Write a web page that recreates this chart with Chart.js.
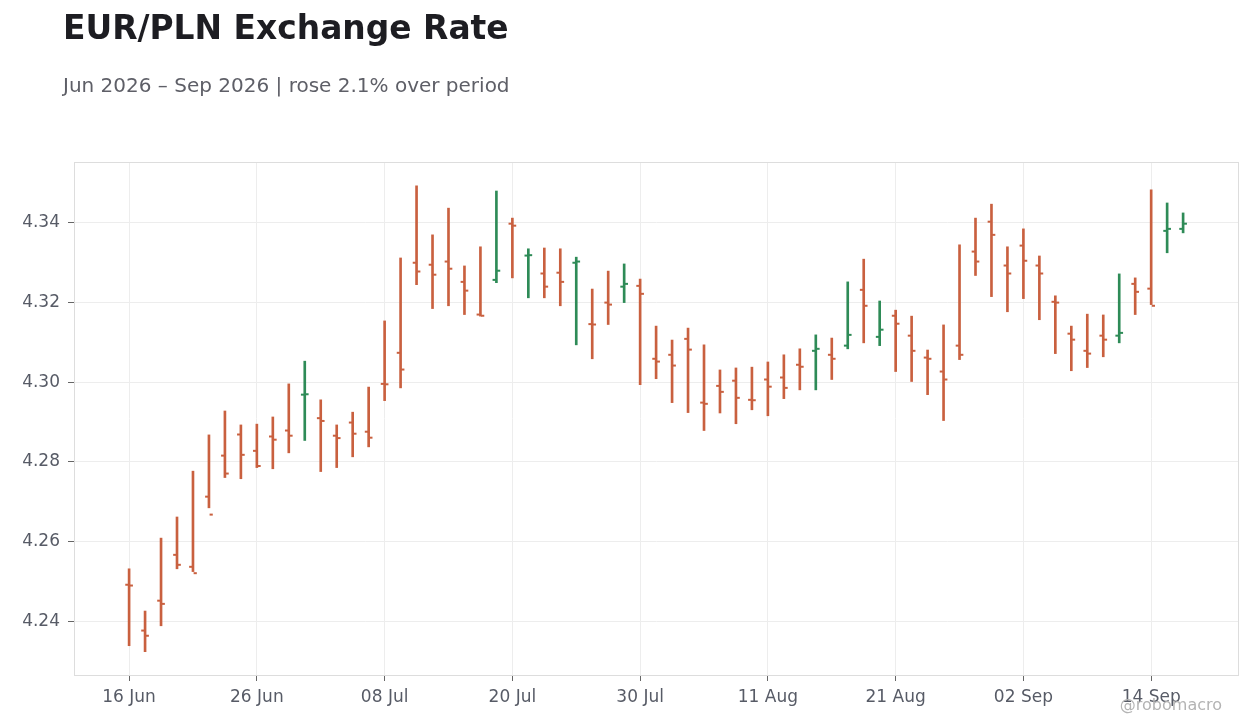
<!DOCTYPE html>
<html>
<head>
<meta charset="utf-8">
<title>EUR/PLN Exchange Rate</title>
<script src="https://cdn.jsdelivr.net/npm/chart.js@4.4.1/dist/chart.umd.min.js"></script>
<style>
  html, body { margin: 0; padding: 0; background: #ffffff; }
  #wrap { width: 1260px; height: 728px; }
</style>
</head>
<body>
<div id="wrap"><canvas id="myChart" width="1260" height="728"></canvas></div>
<script>
// business days, 16 Jun 2026 - 16 Sep 2026
var dates = [
    '16 Jun', '17 Jun', '18 Jun', '19 Jun', '22 Jun', '23 Jun', '24 Jun', '25 Jun', '26 Jun', '29 Jun', '30 Jun',
    '01 Jul', '02 Jul', '03 Jul', '06 Jul', '07 Jul', '08 Jul', '09 Jul', '10 Jul', '13 Jul', '14 Jul', '15 Jul',
    '16 Jul', '17 Jul', '20 Jul', '21 Jul', '22 Jul', '23 Jul', '24 Jul', '27 Jul', '28 Jul', '29 Jul', '30 Jul',
    '31 Jul', '03 Aug', '04 Aug', '05 Aug', '06 Aug', '07 Aug', '10 Aug', '11 Aug', '12 Aug', '13 Aug', '14 Aug',
    '17 Aug', '18 Aug', '19 Aug', '20 Aug', '21 Aug', '24 Aug', '25 Aug', '26 Aug', '27 Aug', '28 Aug', '31 Aug',
    '01 Sep', '02 Sep', '03 Sep', '04 Sep', '07 Sep', '08 Sep', '09 Sep', '10 Sep', '11 Sep', '14 Sep', '15 Sep',
    '16 Sep'
];

var openV = [
    4.2492, 4.2377, 4.2452, 4.2567, 4.2537, 4.2713, 4.2816, 4.2869, 4.2828, 4.2864, 4.2879,
    4.2969, 4.2910, 4.2866, 4.2899, 4.2876, 4.2996, 4.3074, 4.3300, 4.3295, 4.3303, 4.3252,
    4.3170, 4.3257, 4.3398, 4.3318, 4.3273, 4.3275, 4.3300, 4.3146, 4.3200, 4.3240, 4.3242,
    4.3059, 4.3069, 4.3109, 4.2949, 4.2991, 4.3004, 4.2956, 4.3007, 4.3012, 4.3044, 4.3079,
    4.3069, 4.3092, 4.3232, 4.3114, 4.3167, 4.3117, 4.3062, 4.3027, 4.3092, 4.3328, 4.3403,
    4.3293, 4.3343, 4.3293, 4.3202, 4.3122, 4.3079, 4.3117, 4.3117, 4.3247, 4.3235, 4.3380,
    4.3385
];
var highV = [
    4.2532, 4.2426, 4.2609, 4.2662, 4.2777, 4.2868, 4.2928, 4.2893, 4.2895, 4.2913, 4.2996,
    4.3053, 4.2956, 4.2893, 4.2925, 4.2988, 4.3154, 4.3312, 4.3493, 4.3370, 4.3437, 4.3292,
    4.3340, 4.3480, 4.3412, 4.3335, 4.3337, 4.3335, 4.3314, 4.3234, 4.3279, 4.3297, 4.3259,
    4.3141, 4.3106, 4.3136, 4.3094, 4.3031, 4.3036, 4.3038, 4.3051, 4.3069, 4.3084, 4.3119,
    4.3111, 4.3252, 4.3309, 4.3204, 4.3181, 4.3166, 4.3081, 4.3144, 4.3345, 4.3412, 4.3447,
    4.3340, 4.3385, 4.3317, 4.3217, 4.3141, 4.3171, 4.3169, 4.3272, 4.3262, 4.3483, 4.3450,
    4.3425
];
var lowV = [
    4.2339, 4.2324, 4.2389, 4.2532, 4.2525, 4.2685, 4.2761, 4.2758, 4.2786, 4.2783, 4.2823,
    4.2854, 4.2776, 4.2786, 4.2813, 4.2838, 4.2954, 4.2986, 4.3245, 4.3185, 4.3192, 4.3170,
    4.3166, 4.3250, 4.3262, 4.3212, 4.3212, 4.3192, 4.3094, 4.3059, 4.3145, 4.3200, 4.2994,
    4.3009, 4.2949, 4.2924, 4.2879, 4.2923, 4.2896, 4.2931, 4.2916, 4.2959, 4.2981, 4.2981,
    4.3007, 4.3084, 4.3099, 4.3092, 4.3027, 4.3002, 4.2969, 4.2904, 4.3057, 4.3268, 4.3215,
    4.3177, 4.3210, 4.3157, 4.3072, 4.3029, 4.3037, 4.3064, 4.3099, 4.3170, 4.3195, 4.3325,
    4.3375
];
var closeV = [
    4.2490, 4.2364, 4.2444, 4.2542, 4.2521, 4.2668, 4.2771, 4.2818, 4.2790, 4.2856, 4.2866,
    4.2970, 4.2903, 4.2860, 4.2871, 4.2861, 4.2995, 4.3032, 4.3278, 4.3270, 4.3285, 4.3230,
    4.3167, 4.3280, 4.3393, 4.3319, 4.3240, 4.3252, 4.3303, 4.3145, 4.3195, 4.3247, 4.3222,
    4.3052, 4.3042, 4.3082, 4.2946, 4.2976, 4.2961, 4.2955, 4.2989, 4.2986, 4.3039, 4.3084,
    4.3059, 4.3119, 4.3192, 4.3132, 4.3147, 4.3079, 4.3059, 4.3007, 4.3069, 4.3303, 4.3370,
    4.3273, 4.3305, 4.3273, 4.3200, 4.3107, 4.3072, 4.3107, 4.3124, 4.3227, 4.3192, 4.3385,
    4.3398
];

var xTicks = [0, 8, 16, 24, 32, 40, 48, 56, 64];
var yTicks = [4.24, 4.26, 4.28, 4.30, 4.32, 4.34];

var upColor = '#2e8b57';
var downColor = '#c9603f';

var colors = closeV.map(function (c, i) { return c >= openV[i] ? upColor : downColor; });
var rangeData = dates.map(function (d, i) { return { x: i, y: [lowV[i], highV[i]] }; });
var openData = dates.map(function (d, i) { return { x: i - 0.14, y: openV[i] }; });
var closeData = dates.map(function (d, i) { return { x: i + 0.14, y: closeV[i] }; });

// title, subtitle, frame and watermark
var decor = {
    id: 'decor',
    beforeDatasetsDraw: function (chart) {
        var a = chart.chartArea, ctx = chart.ctx;
        ctx.save();
        ctx.strokeStyle = '#dddddd';
        ctx.lineWidth = 1;
        ctx.strokeRect(a.left + 0.5, a.top + 0.5, a.right - a.left - 1, a.bottom - a.top);
        ctx.restore();
    },
    afterDraw: function (chart) {
        var ctx = chart.ctx;
        ctx.save();
        ctx.textBaseline = 'alphabetic';
        ctx.textAlign = 'left';
        ctx.fillStyle = '#1d1d22';
        ctx.font = 'bold 32.9px "DejaVu Sans"';
        ctx.fillText('EUR/PLN Exchange Rate', 63, 39);
        ctx.fillStyle = '#5e5f67';
        ctx.font = '20px "DejaVu Sans"';
        ctx.fillText('Jun 2026 \u2013 Sep 2026 | rose 2.1% over period', 63, 92);
        ctx.fillStyle = '#b4b4b4';
        ctx.font = '16px "DejaVu Sans"';
        ctx.textAlign = 'right';
        ctx.fillText('@robomacro', 1222, 710);
        ctx.restore();
    }
};

var ctx = document.getElementById('myChart').getContext('2d');
window.myChart = new Chart(ctx, {
    type: 'bar',
    data: {
        datasets: [
            {
                type: 'scatter',
                data: openData,
                pointStyle: 'line',
                pointRadius: 1.6,
                pointHoverRadius: 1.6,
                pointBorderWidth: 2,
                pointBorderColor: colors,
                pointBackgroundColor: colors
            },
            {
                type: 'scatter',
                data: closeData,
                pointStyle: 'line',
                pointRadius: 1.6,
                pointHoverRadius: 1.6,
                pointBorderWidth: 2,
                pointBorderColor: colors,
                pointBackgroundColor: colors
            },
            {
                type: 'bar',
                data: rangeData,
                backgroundColor: colors,
                borderWidth: 0,
                barThickness: 2,
                grouped: false
            }
        ]
    },
    options: {
        responsive: false,
        animation: false,
        events: [],
        layout: { padding: { top: 162, right: 21, left: 0, bottom: 0 } },
        plugins: {
            legend: { display: false },
            tooltip: { enabled: false }
        },
        scales: {
            x: {
                type: 'linear',
                min: -3.45,
                max: 69.5,
                offset: false,
                afterBuildTicks: function (scale) {
                    scale.ticks = xTicks.map(function (v) { return { value: v }; });
                },
                afterFit: function (scale) { scale.height = 53; },
                grid: { offset: false, color: '#ededed', tickColor: '#666666', tickLength: 6, lineWidth: 1 },
                border: { display: false },
                ticks: {
                    color: '#575b66',
                    font: { family: 'DejaVu Sans', size: 17 },
                    padding: 6,
                    maxRotation: 0,
                    autoSkip: false,
                    callback: function (v) { return dates[v]; }
                }
            },
            y: {
                min: 4.22655,
                max: 4.35528,
                afterBuildTicks: function (scale) {
                    scale.ticks = yTicks.map(function (v) { return { value: v }; });
                },
                afterFit: function (scale) { scale.width = 74; },
                grid: { color: '#ededed', tickColor: '#666666', tickLength: 6, lineWidth: 1 },
                border: { display: false },
                ticks: {
                    color: '#575b66',
                    font: { family: 'DejaVu Sans', size: 17 },
                    padding: 8,
                    callback: function (v) { return v.toFixed(2); }
                }
            }
        }
    },
    plugins: [decor]
});
</script>
</body>
</html>
